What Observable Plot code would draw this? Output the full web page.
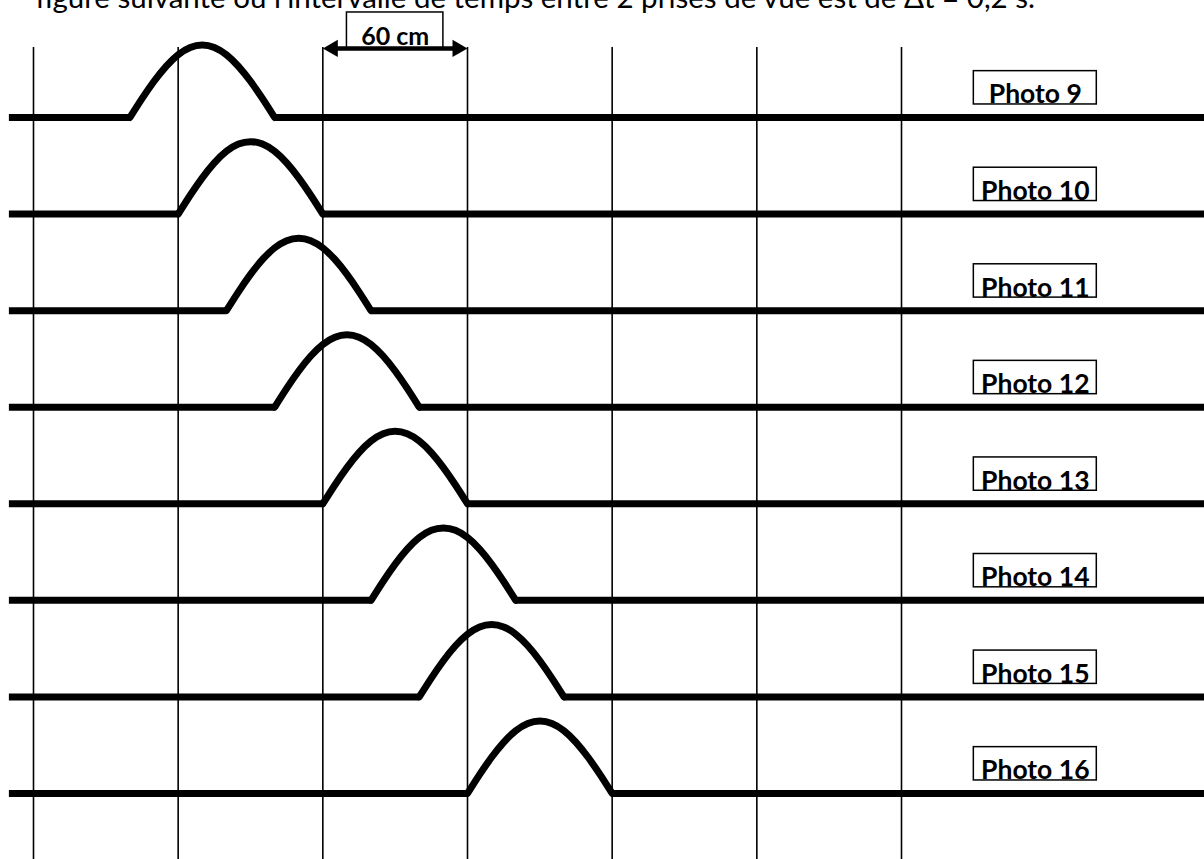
<!DOCTYPE html>
<html><head><meta charset="utf-8">
<script src="https://cdn.jsdelivr.net/npm/d3@7"></script>
<script src="https://cdn.jsdelivr.net/npm/@observablehq/plot@0.6"></script>
<style>
  body { margin: 0; background: #fff; overflow: hidden; }
  #chart svg { display: block; }
</style>
</head><body>
<div id="chart"></div>
<script>
// ---- data (units: cm) ----
const titleText = ["figure suivante où l’intervalle de temps entre 2 prises de vue est de Δt = 0,2 s."];
const photos = [9, 10, 11, 12, 13, 14, 15, 16];
const pulseStarts = [40, 60, 80, 100, 120, 140, 160, 180];   // leading foot of the pulse
const shapeDx = [0, 5, 10, 15, 20, 25, 30, 35, 40, 45, 50, 55, 60]; // along the rope
const shapeH  = [0, 7.8, 15, 21.2, 26, 29, 30, 29, 26, 21.2, 15, 7.8, 0]; // pulse height
const gridX = [0, 60, 120, 180, 240, 300, 360];
const scaleSpan = [120, 180];
const scaleLabel = ["60 cm"];

// ---- layout constants ----
const ROW = 40;            // vertical gap between photos (cm units)
const ROPE_LEFT = -10, ROPE_RIGHT = 490;
const LABEL_X1 = 390, LABEL_X2 = 441, LABEL_XC = 415.5;
const FONT = "Lato, 'Open Sans', sans-serif";

const rows = photos.map((p, i) => ({photo: p, label: "Photo " + p, base: -ROW * i, start: pulseStarts[i]}));
const pulse = rows.flatMap(r => shapeDx.map((dx, k) => ({photo: r.photo, x: r.start + dx, y: r.base + shapeH[k]})));
const ropeWidth = shapeDx[shapeDx.length - 1];
const ropes = rows.flatMap(r => [
  {y: r.base, x1: ROPE_LEFT, x2: r.start},
  {y: r.base, x1: r.start + ropeWidth, x2: ROPE_RIGHT}
]);
const arrowY = 28.6;
const spanMid = (scaleSpan[0] + scaleSpan[1]) / 2;

const chart = Plot.plot({
  width: 1204,
  height: 859,
  margin: 0,
  x: {domain: [0, 360], range: [33, 901], axis: null},
  y: {domain: [0, -280], range: [117, 793], axis: null},
  style: {background: "#fff", fontFamily: FONT},
  marks: [
    // title fragment at the top (clipped by the page edge, as in the source)
    Plot.text(titleText, {frameAnchor: "top-left", dx: 35, dy: 7, lineAnchor: "bottom", textAnchor: "start",
      fontSize: 29.5, fontFamily: FONT, fill: "black", text: d => d}),
    // thin vertical grid lines
    Plot.ruleX(gridX, {x: d => d, y1: 29, y2: -330, stroke: "black", strokeWidth: 1.6}),
    // rope at rest
    Plot.ruleY(ropes, {y: "y", x1: "x1", x2: "x2", stroke: "black", strokeWidth: 7}),
    // pulses
    Plot.line(pulse, {x: "x", y: "y", z: "photo", curve: "natural", stroke: "black", strokeWidth: 7,
      strokeLinejoin: "round"}),
    // 60 cm label box
    Plot.rect([0], {x1: 130, x2: 170, y1: arrowY, y2: 43.5, fill: "white", stroke: "black", strokeWidth: 1.5}),
    Plot.text(scaleLabel, {x: spanMid, y: arrowY, dy: -3, lineAnchor: "bottom", text: d => d,
      fontSize: 25, fontWeight: "bold", fontFamily: FONT, fill: "black"}),
    // double arrow
    Plot.ruleY([arrowY], {x1: scaleSpan[0] + 4, x2: scaleSpan[1] - 4, stroke: "black", strokeWidth: 4.5}),
    Plot.dot([scaleSpan[0]], {x: d => d, y: arrowY, dx: 10, symbol: "triangle", r: 6.4, rotate: -90, fill: "black", stroke: "none"}),
    Plot.dot([scaleSpan[1]], {x: d => d, y: arrowY, dx: -10, symbol: "triangle", r: 6.4, rotate: 90, fill: "black", stroke: "none"}),
    // photo labels
    Plot.rect(rows, {x1: LABEL_X1, x2: LABEL_X2, y1: d => d.base + 5.4, y2: d => d.base + 19.2,
      fill: "white", stroke: "black", strokeWidth: 1.5}),
    Plot.text(rows, {x: LABEL_XC, y: d => d.base + 5.4, dy: -1, lineAnchor: "bottom", text: "label",
      fontSize: 26.5, fontWeight: "bold", fontFamily: FONT, fill: "black"})
  ]
});
document.getElementById("chart").append(chart);
</script>
</body></html>
